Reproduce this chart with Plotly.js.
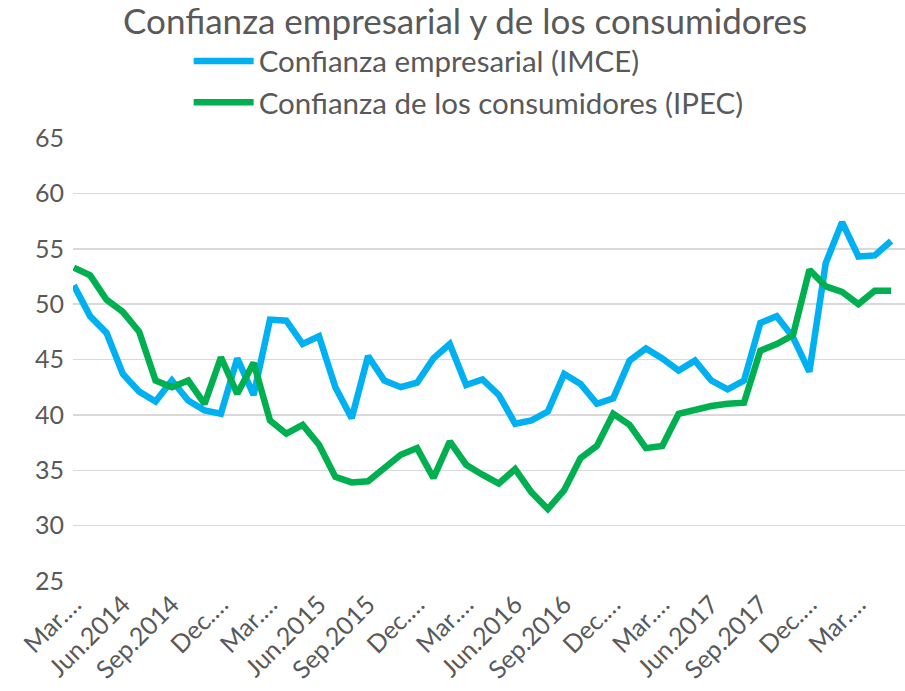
<!DOCTYPE html>
<html>
<head>
<meta charset="utf-8">
<script src="https://cdn.plot.ly/plotly-3.0.1.min.js"></script>
<style>
html,body{margin:0;padding:0;background:#fff;}
#chart{width:905px;height:691px;}
</style>
</head>
<body>
<div id="chart"></div>
<script>
// Months: Mar.2014 .. May.2018
const months = ["Mar.2014","Apr.2014","May.2014","Jun.2014","Jul.2014","Aug.2014","Sep.2014","Oct.2014","Nov.2014","Dec.2014",
"Jan.2015","Feb.2015","Mar.2015","Apr.2015","May.2015","Jun.2015","Jul.2015","Aug.2015","Sep.2015","Oct.2015","Nov.2015","Dec.2015",
"Jan.2016","Feb.2016","Mar.2016","Apr.2016","May.2016","Jun.2016","Jul.2016","Aug.2016","Sep.2016","Oct.2016","Nov.2016","Dec.2016",
"Jan.2017","Feb.2017","Mar.2017","Apr.2017","May.2017","Jun.2017","Jul.2017","Aug.2017","Sep.2017","Oct.2017","Nov.2017","Dec.2017",
"Jan.2018","Feb.2018","Mar.2018","Apr.2018","May.2018"];

const imce = [51.7,48.9,47.4,43.7,42.1,41.2,43.1,41.3,40.4,40.1,
45.1,41.8,48.6,48.5,46.4,47.1,42.5,39.7,45.3,43.1,42.5,42.9,
45.1,46.4,42.7,43.2,41.8,39.2,39.5,40.3,43.7,42.8,41.0,41.5,
44.9,46.0,45.1,44.0,44.9,43.1,42.3,43.1,48.3,48.9,47.0,43.9,
53.7,57.4,54.3,54.4,55.7];

const ipec = [53.3,52.6,50.4,49.3,47.5,43.1,42.5,43.1,41.0,45.2,
41.9,44.7,39.5,38.3,39.1,37.3,34.4,33.9,34.0,35.2,36.4,37.0,
34.3,37.6,35.5,34.6,33.8,35.1,33.0,31.5,33.2,36.1,37.2,40.1,
39.1,37.0,37.2,40.1,40.5,40.8,41.0,41.1,45.8,46.4,47.2,53.1,
51.6,51.1,50.0,51.2,51.2];

const tickIdx = [0,3,6,9,12,15,18,21,24,27,30,33,36,39,42,45,48];
const tickLabels = ["Mar.…","Jun.2014","Sep.2014","Dec.…","Mar.…","Jun.2015","Sep.2015","Dec.…","Mar.…","Jun.2016","Sep.2016","Dec.…","Mar.…","Jun.2017","Sep.2017","Dec.…","Mar.…"];

const seriesNames = ["Confianza empresarial (IMCE)","Confianza de los consumidores (IPEC)"];
const refLevel = 50;

const xs = months.map((m,i)=>i);
const FONT = "Lato, 'Open Sans', sans-serif";
const GRAY = "#595959";

const traces = [
  {x: xs, y: imce, name: seriesNames[0], type:'scatter', mode:'lines',
   line:{color:'#00B0F0', width:6.5}, text: months, hoverinfo:'text+y'},
  {x: xs, y: ipec, name: seriesNames[1], type:'scatter', mode:'lines',
   line:{color:'#00B050', width:6.5}, text: months, hoverinfo:'text+y'}
];

const layout = {
  width:905, height:691,
  paper_bgcolor:'#fff', plot_bgcolor:'#fff',
  margin:{l:73, r:0, t:138, b:110},
  font:{family:FONT, color:GRAY},
  title:{text:"Confianza empresarial y de los consumidores", font:{family:FONT, size:35, color:GRAY},
         x:0.514, xanchor:'center', yref:'container', y:0.986, yanchor:'top', pad:{t:0,b:0}},
  showlegend:true,
  legend:{x:0.139, xanchor:'left', y:1.232, yanchor:'top', orientation:'v',
          font:{family:FONT, size:29.5, color:GRAY}, bgcolor:'rgba(0,0,0,0)', itemwidth:60, tracegroupgap:0},
  xaxis:{range:[-0.05,50.85], tickmode:'array', tickvals: tickIdx.map(i=>xs[i]), ticktext: tickLabels,
         tickangle:-45, tickfont:{family:FONT, size:25, color:GRAY}, ticklabelstandoff:3, showgrid:false, zeroline:false,
         showline:false, ticks:'', fixedrange:true, automargin:false},
  yaxis:{range:[25,65], dtick:5, tick0:25, tickfont:{family:FONT, size:25, color:GRAY}, ticklabelstandoff:8,
         showgrid:true, gridcolor:'#d9d9d9', gridwidth:1.5, zeroline:false, showline:false, ticks:'', fixedrange:true, automargin:false},
  shapes:[{type:'line', xref:'paper', x0:0, x1:1, yref:'y', y0:refLevel, y1:refLevel,
           line:{color:'#595959', width:1.8}, layer:'below'}]
};

Plotly.newPlot('chart', traces, layout, {displayModeBar:false, staticPlot:true});
</script>
</body>
</html>
